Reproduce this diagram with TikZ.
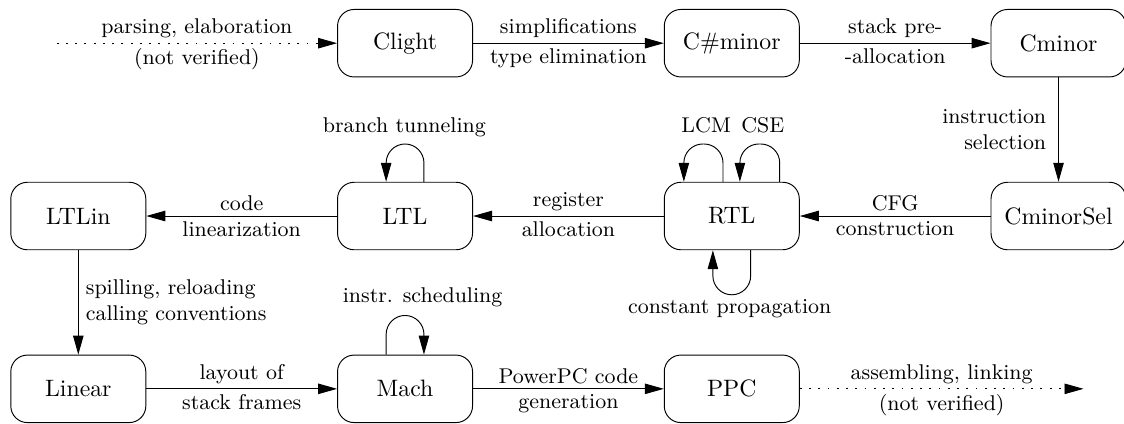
\documentclass[tikz,border=0pt]{standalone}
\usetikzlibrary{arrows.meta}
\begin{document}
\begin{tikzpicture}[>={Triangle[length=8pt,width=4.4pt]},
    stage/.style={draw,rounded corners=7pt,minimum width=2cm,minimum height=1cm},
    lbl/.style={font=\small,inner sep=2pt},
    unverified/.style={dash pattern=on 0.8pt off 3.1pt},
    selfloop/.style={->,rounded corners=8pt}]
	\useasboundingbox (0,0) rectangle (16.65,6.27);
	% the passes
	\node[stage] (clight) at (6.0,5.63) {Clight};
	\node[stage] (csharpminor) at (10.84,5.63) {C\#minor};
	\node[stage] (cminor) at (15.68,5.63) {Cminor};
	\node[stage] (ltlin) at (1.16,3.07) {LTLin};
	\node[stage] (ltl) at (6.0,3.07) {LTL};
	\node[stage] (rtl) at (10.84,3.07) {RTL};
	\node[stage] (cminorsel) at (15.68,3.07) {CminorSel};
	\node[stage] (linear) at (1.16,0.51) {Linear};
	\node[stage] (mach) at (6.0,0.51) {Mach};
	\node[stage] (ppc) at (10.84,0.51) {PPC};
	\coordinate (source) at (0.84,5.63);
	\coordinate (sink) at (16.05,0.51);
	% row 1
	\draw[->,unverified] (source) -- (clight.west)
		node[lbl,midway,above]{parsing, elaboration}
		node[lbl,midway,below]{(not verified)};
	\draw[->] (clight.east) -- (csharpminor.west)
		node[lbl,midway,above]{simplifications}
		node[lbl,midway,below]{type elimination};
	\draw[->] (csharpminor.east) -- (cminor.west)
		node[lbl,midway,above]{stack pre-}
		node[lbl,midway,below]{-allocation};
	\draw[->] (cminor.south) -- (cminorsel.north)
		node[lbl,midway,left=3pt,align=right]{instruction\\selection};
	% row 2
	\draw[->] (cminorsel.west) -- (rtl.east)
		node[lbl,midway,above]{CFG}
		node[lbl,midway,below]{construction};
	\draw[->] (rtl.west) -- (ltl.east)
		node[lbl,midway,above]{register}
		node[lbl,midway,below]{allocation};
	\draw[->] (ltl.west) -- (ltlin.east)
		node[lbl,midway,above]{code}
		node[lbl,midway,below]{linearization};
	\draw[->] (ltlin.south) -- (linear.north)
		node[lbl,midway,right=1pt,align=left]{spilling, reloading\\calling conventions};
	% row 3
	\draw[->] (linear.east) -- (mach.west)
		node[lbl,midway,above]{layout of}
		node[lbl,midway,below]{stack frames};
	\draw[->] (mach.east) -- (ppc.west)
		node[lbl,midway,above]{PowerPC code}
		node[lbl,midway,below]{generation};
	\draw[->,unverified] (ppc.east) -- (sink)
		node[lbl,midway,above]{assembling, linking}
		node[lbl,midway,below]{(not verified)};
	% optimisations
	\draw[selfloop] ([xshift=0.28cm]ltl.north) -- ++(0,0.56) -| ([xshift=-0.28cm]ltl.north);
	\node[lbl] (tunneling) at (5.99,4.38) {branch tunneling};
	\draw[selfloop] ([xshift=-0.13cm]rtl.north) -- ++(0,0.56) -| ([xshift=-0.71cm]rtl.north);
	\node[lbl] (lcm) at (10.46,4.41) {LCM};
	\draw[selfloop] ([xshift=0.71cm]rtl.north) -- ++(0,0.56) -| ([xshift=0.12cm]rtl.north);
	\node[lbl] (cse) at (11.30,4.41) {CSE};
	\draw[selfloop] ([xshift=0.28cm]rtl.south) -- ++(0,-0.66) -| ([xshift=-0.28cm]rtl.south);
	\node[lbl] (constprop) at (10.81,1.69) {constant propagation};
	\draw[selfloop] ([xshift=-0.28cm]mach.north) -- ++(0,0.58) -| ([xshift=0.28cm]mach.north);
	\node[lbl] (scheduling) at (6.26,1.87) {instr. scheduling};
\end{tikzpicture}
\end{document}
